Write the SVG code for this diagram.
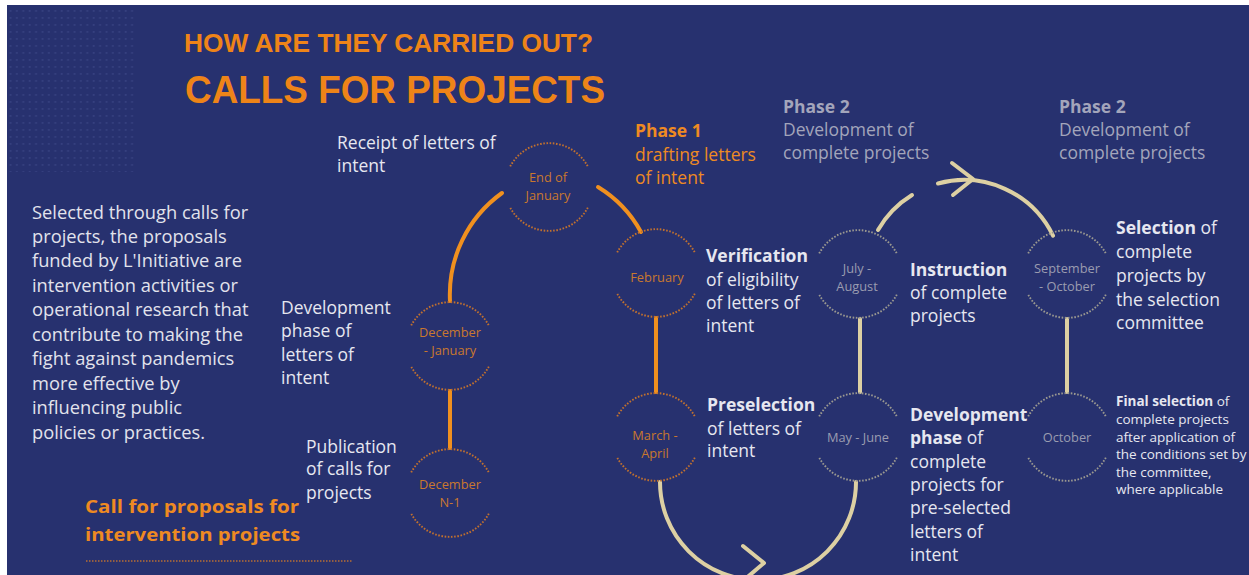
<svg xmlns="http://www.w3.org/2000/svg" xmlns:xlink="http://www.w3.org/1999/xlink" width="1249" height="575" viewBox="0 0 1249 575">
<style>
.t{font-family:"Open Sans","Liberation Sans",sans-serif;font-size:17.5px;fill:#e6e7f0}
.p{font-size:18.3px;fill:#e2e3ec}
.b{font-weight:bold}
.g{fill:#a3a5bb}
.o{fill:#ee8a22}
.sm{font-size:13.5px}
.nt{font-family:"Open Sans","Liberation Sans",sans-serif;font-size:12.8px;text-anchor:middle}
.no{fill:#c9782e}
.ng{fill:#9a9cb0}
.ro{stroke:#c0702f}
.rg{stroke:#9a9890}
.title{font-family:"Liberation Sans",Arial,sans-serif;font-weight:bold;fill:#ee8418}
.co{fill:none;stroke:#f0901f;stroke-width:4;stroke-linecap:round}
.cb{fill:none;stroke:#ddd0a3;stroke-width:4;stroke-linecap:round;stroke-linejoin:round}
</style>
<defs>
<pattern id="dots" x="8" y="8" width="6.4" height="7" patternUnits="userSpaceOnUse">
<rect x="1.6" y="2" width="1.8" height="1.8" fill="#35407f"/>
</pattern>
<g id="ring" fill="none" stroke-width="1.9" stroke-dasharray="1.6 1.6">
<path d="M-38.8,-20.6 A44,44 0 0 1 38.8,-20.6"/>
<path d="M38.8,20.6 A44,44 0 0 1 -38.8,20.6"/>
</g>
</defs>
<rect width="1249" height="575" fill="#ffffff"/>
<rect x="7" y="5" width="1242" height="570" fill="#27316f"/>
<rect x="8" y="8" width="128" height="164" fill="url(#dots)"/>

<g id="title">
<text class="title" x="184" y="52" font-size="26.5" textLength="409" lengthAdjust="spacingAndGlyphs">HOW ARE THEY CARRIED OUT?</text>
<text class="title" x="185" y="103" font-size="39.5" textLength="420" lengthAdjust="spacingAndGlyphs">CALLS FOR PROJECTS</text>
</g>

<g id="intro">
<text class="t p" x="32" y="218.5">Selected through calls for</text>
<text class="t p" x="32" y="242.9">projects, the proposals</text>
<text class="t p" x="32" y="267.4">funded by L'Initiative are</text>
<text class="t p" x="32" y="291.8">intervention activities or</text>
<text class="t p" x="32" y="316.3">operational research that</text>
<text class="t p" x="32" y="340.7">contribute to making the</text>
<text class="t p" x="32" y="365.1">fight against pandemics</text>
<text class="t p" x="32" y="389.6">more effective by</text>
<text class="t p" x="32" y="414">influencing public</text>
<text class="t p" x="32" y="438.5">policies or practices.</text>
</g>

<g id="call-title">
<text class="t b o" x="85" y="513" font-size="20.5" textLength="214" lengthAdjust="spacingAndGlyphs">Call for proposals for</text>
<text class="t b o" x="85" y="541" font-size="20.5" textLength="215" lengthAdjust="spacingAndGlyphs">intervention projects</text>
<line x1="86" y1="561" x2="353" y2="561" stroke="#b86e34" stroke-width="1.6" stroke-dasharray="1.5 1.5"/>
</g>

<g id="connectors">
<line class="co" x1="450" y1="391" x2="450" y2="448"/>
<path class="co" d="M450,301 A125,125 0 0 1 502,193"/>
<path class="co" d="M598,187 A120,120 0 0 1 641,232"/>
<line class="co" x1="656" y1="318" x2="656" y2="392"/>
<path class="cb" d="M660,482 A98,98 0 0 0 856,482"/>
<polyline class="cb" points="743,546 764,563 744,580"/>
<line class="cb" x1="860" y1="392" x2="860" y2="319"/>
<path class="cb" d="M878,230 A99,99 0 0 1 912,195"/>
<path class="cb" d="M938,183.5 A99,99 0 0 1 1053,235.6"/>
<polyline class="cb" points="952,163 973,179 953,195"/>
<line class="cb" x1="1067" y1="319" x2="1067" y2="392"/>
</g>

<g id="node-end-january">
<use xlink:href="#ring" href="#ring" class="ro" x="549" y="187"/>
<text class="nt no" x="548" y="181.5">End of</text>
<text class="nt no" x="548" y="199.5">January</text>
</g>
<g id="node-february">
<use xlink:href="#ring" href="#ring" class="ro" x="656" y="273"/>
<text class="nt no" x="657" y="281.5">February</text>
</g>
<g id="node-december-january">
<use xlink:href="#ring" href="#ring" class="ro" x="450" y="346"/>
<text class="nt no" x="450" y="337">December</text>
<text class="nt no" x="450" y="355">- January</text>
</g>
<g id="node-december-n1">
<use xlink:href="#ring" href="#ring" class="ro" x="450" y="493"/>
<text class="nt no" x="450" y="488.5">December</text>
<text class="nt no" x="450" y="507">N-1</text>
</g>
<g id="node-march-april">
<use xlink:href="#ring" href="#ring" class="ro" x="656" y="437"/>
<text class="nt no" x="655" y="440">March -</text>
<text class="nt no" x="655" y="458">April</text>
</g>
<g id="node-july-august">
<use xlink:href="#ring" href="#ring" class="rg" x="858" y="274"/>
<text class="nt ng" x="857" y="272.5">July -</text>
<text class="nt ng" x="857" y="290.5">August</text>
</g>
<g id="node-september-october">
<use xlink:href="#ring" href="#ring" class="rg" x="1067" y="274"/>
<text class="nt ng" x="1067" y="272.5">September</text>
<text class="nt ng" x="1067" y="290.5">- October</text>
</g>
<g id="node-may-june">
<use xlink:href="#ring" href="#ring" class="rg" x="858" y="437"/>
<text class="nt ng" x="858" y="441.5">May - June</text>
</g>
<g id="node-october">
<use xlink:href="#ring" href="#ring" class="rg" x="1067" y="437"/>
<text class="nt ng" x="1067" y="441.5">October</text>
</g>

<g id="label-receipt">
<text class="t" x="337" y="149">Receipt of letters of</text>
<text class="t" x="337" y="172">intent</text>
</g>
<g id="label-development-loi">
<text class="t" x="281" y="313.5">Development</text>
<text class="t" x="281" y="337">phase of</text>
<text class="t" x="281" y="360.5">letters of</text>
<text class="t" x="281" y="384">intent</text>
</g>
<g id="label-publication">
<text class="t" x="306" y="452.5">Publication</text>
<text class="t" x="306" y="475">of calls for</text>
<text class="t" x="306" y="498.5">projects</text>
</g>
<g id="label-phase1">
<text class="t b o" x="635" y="136.5">Phase 1</text>
<text class="t o" x="635" y="160.5">drafting letters</text>
<text class="t o" x="635" y="183.5">of intent</text>
</g>
<g id="label-verification">
<text class="t b" x="706" y="261.5">Verification</text>
<text class="t" x="706" y="285.5">of eligibility</text>
<text class="t" x="706" y="308.5">of letters of</text>
<text class="t" x="706" y="331.5">intent</text>
</g>
<g id="label-preselection">
<text class="t b" x="707" y="410.5">Preselection</text>
<text class="t" x="707" y="434.5">of letters of</text>
<text class="t" x="707" y="457">intent</text>
</g>
<g id="label-phase2a">
<text class="t b g" x="783" y="112.5">Phase 2</text>
<text class="t g" x="783" y="135.5">Development of</text>
<text class="t g" x="783" y="158.5">complete projects</text>
</g>
<g id="label-phase2b">
<text class="t b g" x="1059" y="112.5">Phase 2</text>
<text class="t g" x="1059" y="135.5">Development of</text>
<text class="t g" x="1059" y="158.5">complete projects</text>
</g>
<g id="label-instruction">
<text class="t b" x="910" y="275.5">Instruction</text>
<text class="t" x="910" y="298.5">of complete</text>
<text class="t" x="910" y="321.5">projects</text>
</g>
<g id="label-selection">
<text class="t" x="1116" y="233.5"><tspan class="b">Selection</tspan> of</text>
<text class="t" x="1116" y="258">complete</text>
<text class="t" x="1116" y="282">projects by</text>
<text class="t" x="1116" y="305.5">the selection</text>
<text class="t" x="1116" y="328.5">committee</text>
</g>
<g id="label-development-cp">
<text class="t b" x="910" y="420.5">Development</text>
<text class="t" x="910" y="443.5"><tspan class="b">phase</tspan> of</text>
<text class="t" x="910" y="467.5">complete</text>
<text class="t" x="910" y="490.5">projects for</text>
<text class="t" x="910" y="513.5">pre-selected</text>
<text class="t" x="910" y="537.5">letters of</text>
<text class="t" x="910" y="560.5">intent</text>
</g>
<g id="label-final-selection">
<text class="t sm" x="1116" y="405.5"><tspan class="b">Final selection</tspan> of</text>
<text class="t sm" x="1116" y="423.5">complete projects</text>
<text class="t sm" x="1116" y="441.5">after application of</text>
<text class="t sm" x="1116" y="458.5">the conditions set by</text>
<text class="t sm" x="1116" y="476.5">the committee,</text>
<text class="t sm" x="1116" y="493.5">where applicable</text>
</g>
</svg>
